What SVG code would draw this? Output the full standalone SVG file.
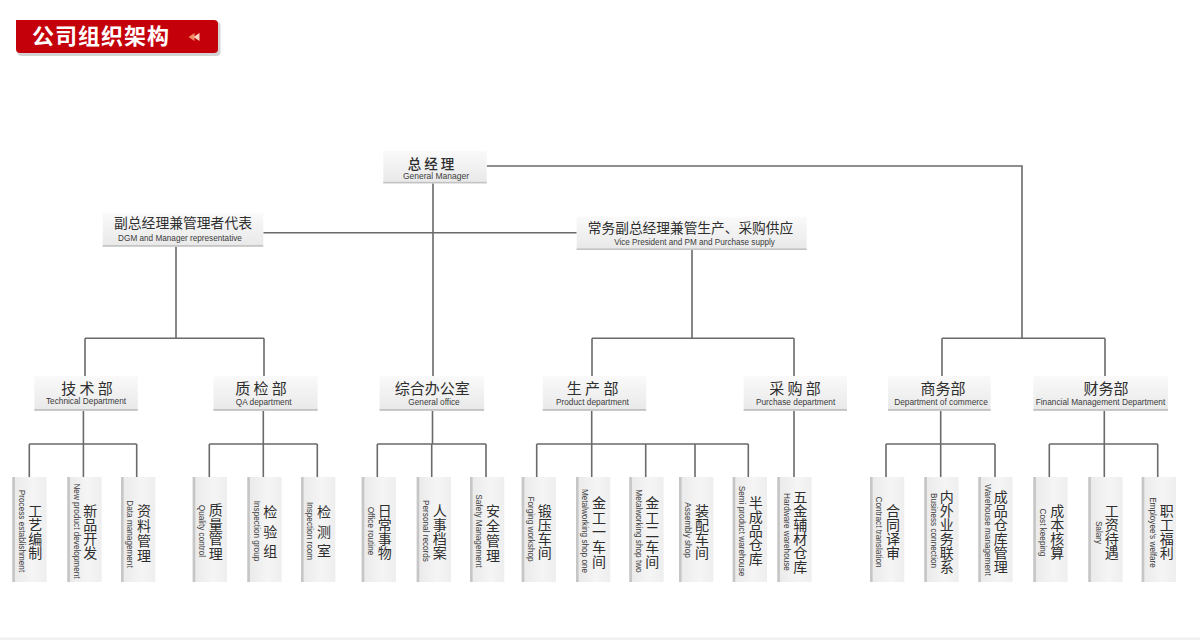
<svg xmlns="http://www.w3.org/2000/svg" width="1200" height="640" viewBox="0 0 1200 640">
<defs>
<style>
.cn{font-family:"Noto Sans CJK SC","Noto Sans",sans-serif;fill:#2e2e2e}
.en{font-family:"Liberation Sans",Arial,sans-serif;fill:#3c3c3c}
.ln{stroke:#6a6a6a;stroke-width:1.6;fill:none}
.bx{fill:url(#gd)}
.bb{fill:#c3c3c3}
.lf{fill:url(#gl)}
.ls{fill:#c6c6c6}
.le{font-size:8.2px;text-anchor:middle;dominant-baseline:central}
.lc{font-size:14px;text-anchor:middle;writing-mode:vertical-rl}
.dc{font-size:15px;text-anchor:middle}
.de{font-size:8.3px;text-anchor:middle}
</style>
<linearGradient id="gd" x1="0" y1="0" x2="0" y2="1">
<stop offset="0" stop-color="#fafafa"/>
<stop offset="1" stop-color="#e8e8e8"/>
</linearGradient>
<linearGradient id="gl" x1="0" y1="0" x2="1" y2="0">
<stop offset="0" stop-color="#e9e9e9"/>
<stop offset="0.6" stop-color="#f5f5f5"/>
<stop offset="1" stop-color="#eeeeee"/>
</linearGradient>
</defs>
<rect width="1200" height="640" fill="#ffffff"/>
<rect x="0" y="637.5" width="1200" height="2.5" fill="#f0f0f0"/>

<g id="title">
<rect x="17.5" y="22" width="203" height="34" rx="4" fill="#b5b5b5" opacity="0.6"/>
<path d="M16,20 H214 Q218,20 218,24 V49 Q218,53 214,53 H20 Q16,53 16,49 Z" fill="#c4000b"/>
<text x="32" y="44" font-family="'Noto Sans CJK SC',sans-serif" font-weight="bold" font-size="22" letter-spacing="1" fill="#ffffff">公司组织架构</text>
<polygon points="188.5,37 194.5,33 194.5,41" fill="#f08a64"/>
<polygon points="193.5,37 199.5,33 199.5,41" fill="#f8d2c0"/>
</g>

<g id="connectors">
<path class="ln" d="M486.7,166 H1022 V338.3 M942,338.3 H1105 M942,338.3 V376 M1105,338.3 V376
M433,183.3 V376 M263.3,232.7 H576.7
M176,246.7 V338.3 M85,338.3 H264 M85,338.3 V376 M264,338.3 V376
M692,250 V338.3 M592,338.3 H794 M592,338.3 V376 M794,338.3 V376
M83.4,411 V444 M29.3,444 H136.7 M29.3,444 V477 M83.4,444 V477 M136.7,444 V477
M263.3,411 V444 M209.3,444 H317.3 M209.3,444 V477 M263.3,444 V477 M317.3,444 V477
M432.5,411 V444 M377.3,444 H486 M377.3,444 V477 M431.7,444 V477 M486,444 V477
M591.7,411 V444 M536.7,444 H748.3 M536.7,444 V477 M591.7,444 V477 M645.7,444 V477 M695,444 V477 M748.3,444 V477
M794,411 V477
M940.7,411 V444 M886,444 H995 M886,444 V477 M940.7,444 V477 M995,444 V477
M1104.3,411 V444 M1049.3,444 H1157.7 M1049.3,444 V477 M1104.3,444 V477 M1157.7,444 V477"/>
</g>

<g id="gm">
<rect class="bx" x="383.3" y="150.7" width="103.4" height="32.6"/>
<rect class="bb" x="383.3" y="181.8" width="103.4" height="1.6"/>
<text class="cn" x="431" y="168.5" font-size="13.5" font-weight="500" text-anchor="middle">总 经 理</text>
<text class="en" x="436" y="178.5" font-size="8.5" text-anchor="middle">General Manager</text>
</g>

<g id="dgm">
<rect class="bx" x="102.7" y="212.7" width="160.6" height="34"/>
<rect class="bb" x="102.7" y="245.1" width="160.6" height="1.6"/>
<text class="cn" x="183" y="227.5" font-size="13.8" text-anchor="middle">副总经理兼管理者代表</text>
<text class="en" x="180" y="241" font-size="8.2" text-anchor="middle">DGM and Manager representative</text>
</g>

<g id="vp">
<rect class="bx" x="576.7" y="216.7" width="230" height="33.3"/>
<rect class="bb" x="576.7" y="248.4" width="230" height="1.6"/>
<text class="cn" x="690.5" y="232.5" font-size="13.7" text-anchor="middle">常务副总经理兼管生产、采购供应</text>
<text class="en" x="694.5" y="244.5" font-size="8.15" text-anchor="middle">Vice President and PM and Purchase supply</text>
</g>

<g id="dept-tech">
<rect class="bx" x="34.4" y="376" width="103.4" height="34.7"/>
<rect class="bb" x="34.4" y="409" width="103.4" height="1.8"/>
<text class="cn dc" x="87" y="394">技 术 部</text>
<text class="en de" x="86" y="404" font-size="8.8">Technical Department</text>
</g>
<g id="dept-qa">
<rect class="bx" x="213.5" y="376" width="104.1" height="34.7"/>
<rect class="bb" x="213.5" y="409" width="104.1" height="1.8"/>
<text class="cn dc" x="261" y="394">质 检 部</text>
<text class="en de" x="263.7" y="404.5" font-size="9">QA department</text>
</g>
<g id="dept-office">
<rect class="bx" x="379.6" y="376" width="104.5" height="34.7"/>
<rect class="bb" x="379.6" y="409" width="104.5" height="1.8"/>
<text class="cn dc" x="432.3" y="394">综合办公室</text>
<text class="en de" x="434" y="405" font-size="8">General office</text>
</g>
<g id="dept-prod">
<rect class="bx" x="542.8" y="376" width="103.4" height="34.7"/>
<rect class="bb" x="542.8" y="409" width="103.4" height="1.8"/>
<text class="cn dc" x="592.6" y="394">生 产 部</text>
<text class="en de" x="592.4" y="404.5">Product department</text>
</g>
<g id="dept-purchase">
<rect class="bx" x="743.7" y="376" width="103.3" height="34.7"/>
<rect class="bb" x="743.7" y="409" width="103.3" height="1.8"/>
<text class="cn dc" x="795" y="394">采 购 部</text>
<text class="en de" x="795.6" y="404.5">Purchase department</text>
</g>
<g id="dept-commerce">
<rect class="bx" x="888" y="376" width="102.7" height="34.7"/>
<rect class="bb" x="888" y="409" width="102.7" height="1.8"/>
<text class="cn dc" x="943" y="394">商务部</text>
<text class="en de" x="941" y="405">Department of commerce</text>
</g>
<g id="dept-finance">
<rect class="bx" x="1033.4" y="376" width="134.6" height="34.7"/>
<rect class="bb" x="1033.4" y="409" width="134.6" height="1.8"/>
<text class="cn dc" x="1106" y="394">财务部</text>
<text class="en de" x="1100.5" y="405">Financial Management Department</text>
</g>

<g id="leaf-gongyi" transform="translate(12.3,477)">
<rect class="lf" width="34.3" height="105"/><rect class="ls" width="2.6" height="105"/>
<text class="en le" transform="translate(8.8,54) rotate(90)">Process establishment</text>
<text class="cn lc" x="23" y="54.5">工艺编制</text>
</g>
<g id="leaf-xinpin" transform="translate(67.3,477)">
<rect class="lf" width="34.3" height="105"/><rect class="ls" width="2.6" height="105"/>
<text class="en le" transform="translate(8.8,54) rotate(90)">New product development</text>
<text class="cn lc" x="23" y="54.5">新品开发</text>
</g>
<g id="leaf-ziliao" transform="translate(121,477)">
<rect class="lf" width="34.3" height="105"/><rect class="ls" width="2.6" height="105"/>
<text class="en le" transform="translate(8.8,57) rotate(90)">Data management</text>
<text class="cn lc" x="23" y="57" letter-spacing="1">资料管理</text>
</g>
<g id="leaf-zhiliang" transform="translate(192.7,477)">
<rect class="lf" width="34.3" height="105"/><rect class="ls" width="2.6" height="105"/>
<text class="en le" transform="translate(8.8,54) rotate(90)">Quality control</text>
<text class="cn lc" x="23" y="55" letter-spacing="0.5">质量管理</text>
</g>
<g id="leaf-jianyan" transform="translate(247.3,477)">
<rect class="lf" width="34.3" height="105"/><rect class="ls" width="2.6" height="105"/>
<text class="en le" transform="translate(8.8,54) rotate(90)">Inspection group</text>
<text class="cn lc" x="23" y="57.2" letter-spacing="5.5">检验组</text>
</g>
<g id="leaf-jiance" transform="translate(301,477)">
<rect class="lf" width="34.3" height="105"/><rect class="ls" width="2.6" height="105"/>
<text class="en le" transform="translate(8.8,54) rotate(90)">Inspection room</text>
<text class="cn lc" x="23" y="57.2" letter-spacing="5.5">检测室</text>
</g>
<g id="leaf-richang" transform="translate(361.7,477)">
<rect class="lf" width="34.3" height="105"/><rect class="ls" width="2.6" height="105"/>
<text class="en le" transform="translate(8.8,54) rotate(90)">Office routine</text>
<text class="cn lc" x="23" y="54.5">日常事物</text>
</g>
<g id="leaf-renshi" transform="translate(416.7,477)">
<rect class="lf" width="34.3" height="105"/><rect class="ls" width="2.6" height="105"/>
<text class="en le" transform="translate(8.8,54) rotate(90)">Personal records</text>
<text class="cn lc" x="23" y="54.5">人事档案</text>
</g>
<g id="leaf-anquan" transform="translate(470,477)">
<rect class="lf" width="34.3" height="105"/><rect class="ls" width="2.6" height="105"/>
<text class="en le" transform="translate(8.8,54) rotate(90)">Safety Management</text>
<text class="cn lc" x="23" y="57" letter-spacing="1">安全管理</text>
</g>
<g id="leaf-duanya" transform="translate(521.7,477)">
<rect class="lf" width="34.3" height="105"/><rect class="ls" width="2.6" height="105"/>
<text class="en le" transform="translate(8.8,52) rotate(90)">Forging workshop</text>
<text class="cn lc" x="23" y="54.5">锻压车间</text>
</g>
<g id="leaf-jingong1" transform="translate(576,477)">
<rect class="lf" width="34.3" height="105"/><rect class="ls" width="2.6" height="105"/>
<text class="en le" transform="translate(8.8,54) rotate(90)">Metalworking shop one</text>
<text class="cn lc" x="23" y="55.5" letter-spacing="0.8">金工一车间</text>
</g>
<g id="leaf-jingong2" transform="translate(629.3,477)">
<rect class="lf" width="34.3" height="105"/><rect class="ls" width="2.6" height="105"/>
<text class="en le" transform="translate(8.8,54) rotate(90)">Metalworking shop two</text>
<text class="cn lc" x="23" y="55.5" letter-spacing="0.8">金工二车间</text>
</g>
<g id="leaf-zhuangpei" transform="translate(679,477)">
<rect class="lf" width="34.3" height="105"/><rect class="ls" width="2.6" height="105"/>
<text class="en le" transform="translate(8.8,53) rotate(90)">Assembly shop</text>
<text class="cn lc" x="23" y="54.5">装配车间</text>
</g>
<g id="leaf-banchengpin" transform="translate(732.7,477)">
<rect class="lf" width="34.3" height="105"/><rect class="ls" width="2.6" height="105"/>
<text class="en le" transform="translate(8.8,54) rotate(90)">Semi product warehouse</text>
<text class="cn lc" x="23" y="54">半成品仓库</text>
</g>
<g id="leaf-wujin" transform="translate(777.3,477)">
<rect class="lf" width="34.3" height="105"/><rect class="ls" width="2.6" height="105"/>
<text class="en le" transform="translate(8.8,55) rotate(90)">Hardware warehouse</text>
<text class="cn lc" x="23" y="54.5">五金辅材仓库</text>
</g>
<g id="leaf-hetong" transform="translate(870,477)">
<rect class="lf" width="34.3" height="105"/><rect class="ls" width="2.6" height="105"/>
<text class="en le" transform="translate(8.5,55) rotate(90)">Contract translation</text>
<text class="cn lc" x="23" y="54.5">合同译审</text>
</g>
<g id="leaf-neiwai" transform="translate(924.3,477)">
<rect class="lf" width="34.3" height="105"/><rect class="ls" width="2.6" height="105"/>
<text class="en le" transform="translate(8.8,53.5) rotate(90)">Business connection</text>
<text class="cn lc" x="22.5" y="54.5">内外业务联系</text>
</g>
<g id="leaf-chengpin" transform="translate(978.3,477)">
<rect class="lf" width="34.3" height="105"/><rect class="ls" width="2.6" height="105"/>
<text class="en le" transform="translate(8.8,53) rotate(90)">Warehouse management</text>
<text class="cn lc" x="22.5" y="55">成品仓库管理</text>
</g>
<g id="leaf-chengben" transform="translate(1033.3,477)">
<rect class="lf" width="34.3" height="105"/><rect class="ls" width="2.6" height="105"/>
<text class="en le" transform="translate(9.5,55.5) rotate(90)">Cost keeping</text>
<text class="cn lc" x="24" y="54.5">成本核算</text>
</g>
<g id="leaf-gongzi" transform="translate(1088.3,477)">
<rect class="lf" width="34.3" height="105"/><rect class="ls" width="2.6" height="105"/>
<text class="en le" transform="translate(10,55.5) rotate(90)">Salary</text>
<text class="cn lc" x="23.5" y="54.5">工资待遇</text>
</g>
<g id="leaf-zhigong" transform="translate(1141.7,477)">
<rect class="lf" width="34.3" height="105"/><rect class="ls" width="2.6" height="105"/>
<text class="en le" transform="translate(11,55.5) rotate(90)">Employee's welfare</text>
<text class="cn lc" x="25" y="54.5">职工福利</text>
</g>
</svg>
